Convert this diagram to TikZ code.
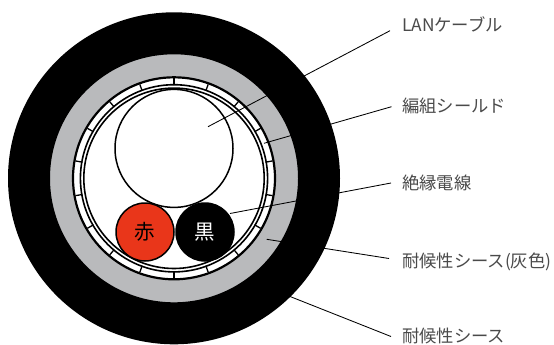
\documentclass[tikz,border=0pt]{standalone}
\usepackage{fontspec}
\usetikzlibrary{calc}
\setmainfont{Noto Sans CJK JP}
\definecolor{sheathgray}{HTML}{B9BABC}
\definecolor{wirered}{HTML}{E9361A}
\definecolor{labeltext}{HTML}{4A4A4A}
\tikzset{
  x=1pt,y=-1pt,
  leader/.style={draw=black,line width=0.85pt},
  labeltxt/.style={anchor=west,inner sep=0pt,text=labeltext,font=\fontsize{17.3}{20}\selectfont},
  wire/.style={circle,minimum size=58pt,inner sep=0pt,line width=1.5pt,font=\fontsize{20.5}{24}\selectfont},
}
\begin{document}
\begin{tikzpicture}
\useasboundingbox (0,0) rectangle (554,345);
\fill[white] (0,0) rectangle (554,345);
\coordinate (c) at (174,178.3);
\fill[sheathgray] (c) circle[radius=126pt];
% braid
\fill[white] (c) circle[radius=101pt];
\draw[line width=2.2pt] (c) circle[radius=101pt];
\foreach \a in {90,70,...,-270}{
  \draw[line width=1.3pt] ($(c)+(\a:93pt)$) -- ($(c)+(\a:100pt)$);
}
\draw[line width=1.6pt] (c) circle[radius=93.6pt];
\draw[line width=1.6pt] (c) circle[radius=90.2pt];
% wires
\node[wire,draw=black,fill=white,minimum size=118pt] (lan) at (174,148.4) {};
\node[wire,draw=black,fill=wirered,text=black] (red) at (145,232) {赤};
\node[wire,draw=black,fill=black,text=white] (blk) at (205,232) {黒};
% labels
\node[labeltxt] (t1) at (402,24) {LANケーブル};
\node[labeltxt] (t2) at (402,106) {編組シールド};
\node[labeltxt] (t3) at (402,183) {絶縁電線};
\node[labeltxt] (t4) at (402,262) {耐候性シース(灰色)};
\node[labeltxt] (t5) at (402,336) {耐候性シース};
% leader ends
\coordinate (e1) at (390,30.7);
\coordinate (e2) at (391.5,106.7);
\coordinate (e3) at (391,183);
\coordinate (e4) at (389,258.5);
\coordinate (e5) at (391,336.5);
\coordinate (p1) at (208,126.7);
\coordinate (p2) at (264,143.3);
\coordinate (p3) at (230,213.5);
\coordinate (p4) at (266.7,239.3);
\coordinate (p5) at (285,294.5);
\draw[leader] (e1) -- (p1);
\draw[leader] (e2) -- (p2);
\draw[leader] (e3) -- (p3);
\draw[leader] (e4) -- (p4);
\draw[leader] (e5) -- (p5);
% outer sheath over the leaders
\fill[black,even odd rule] (c) circle[radius=166pt] (c) circle[radius=124pt];
\end{tikzpicture}
\end{document}
